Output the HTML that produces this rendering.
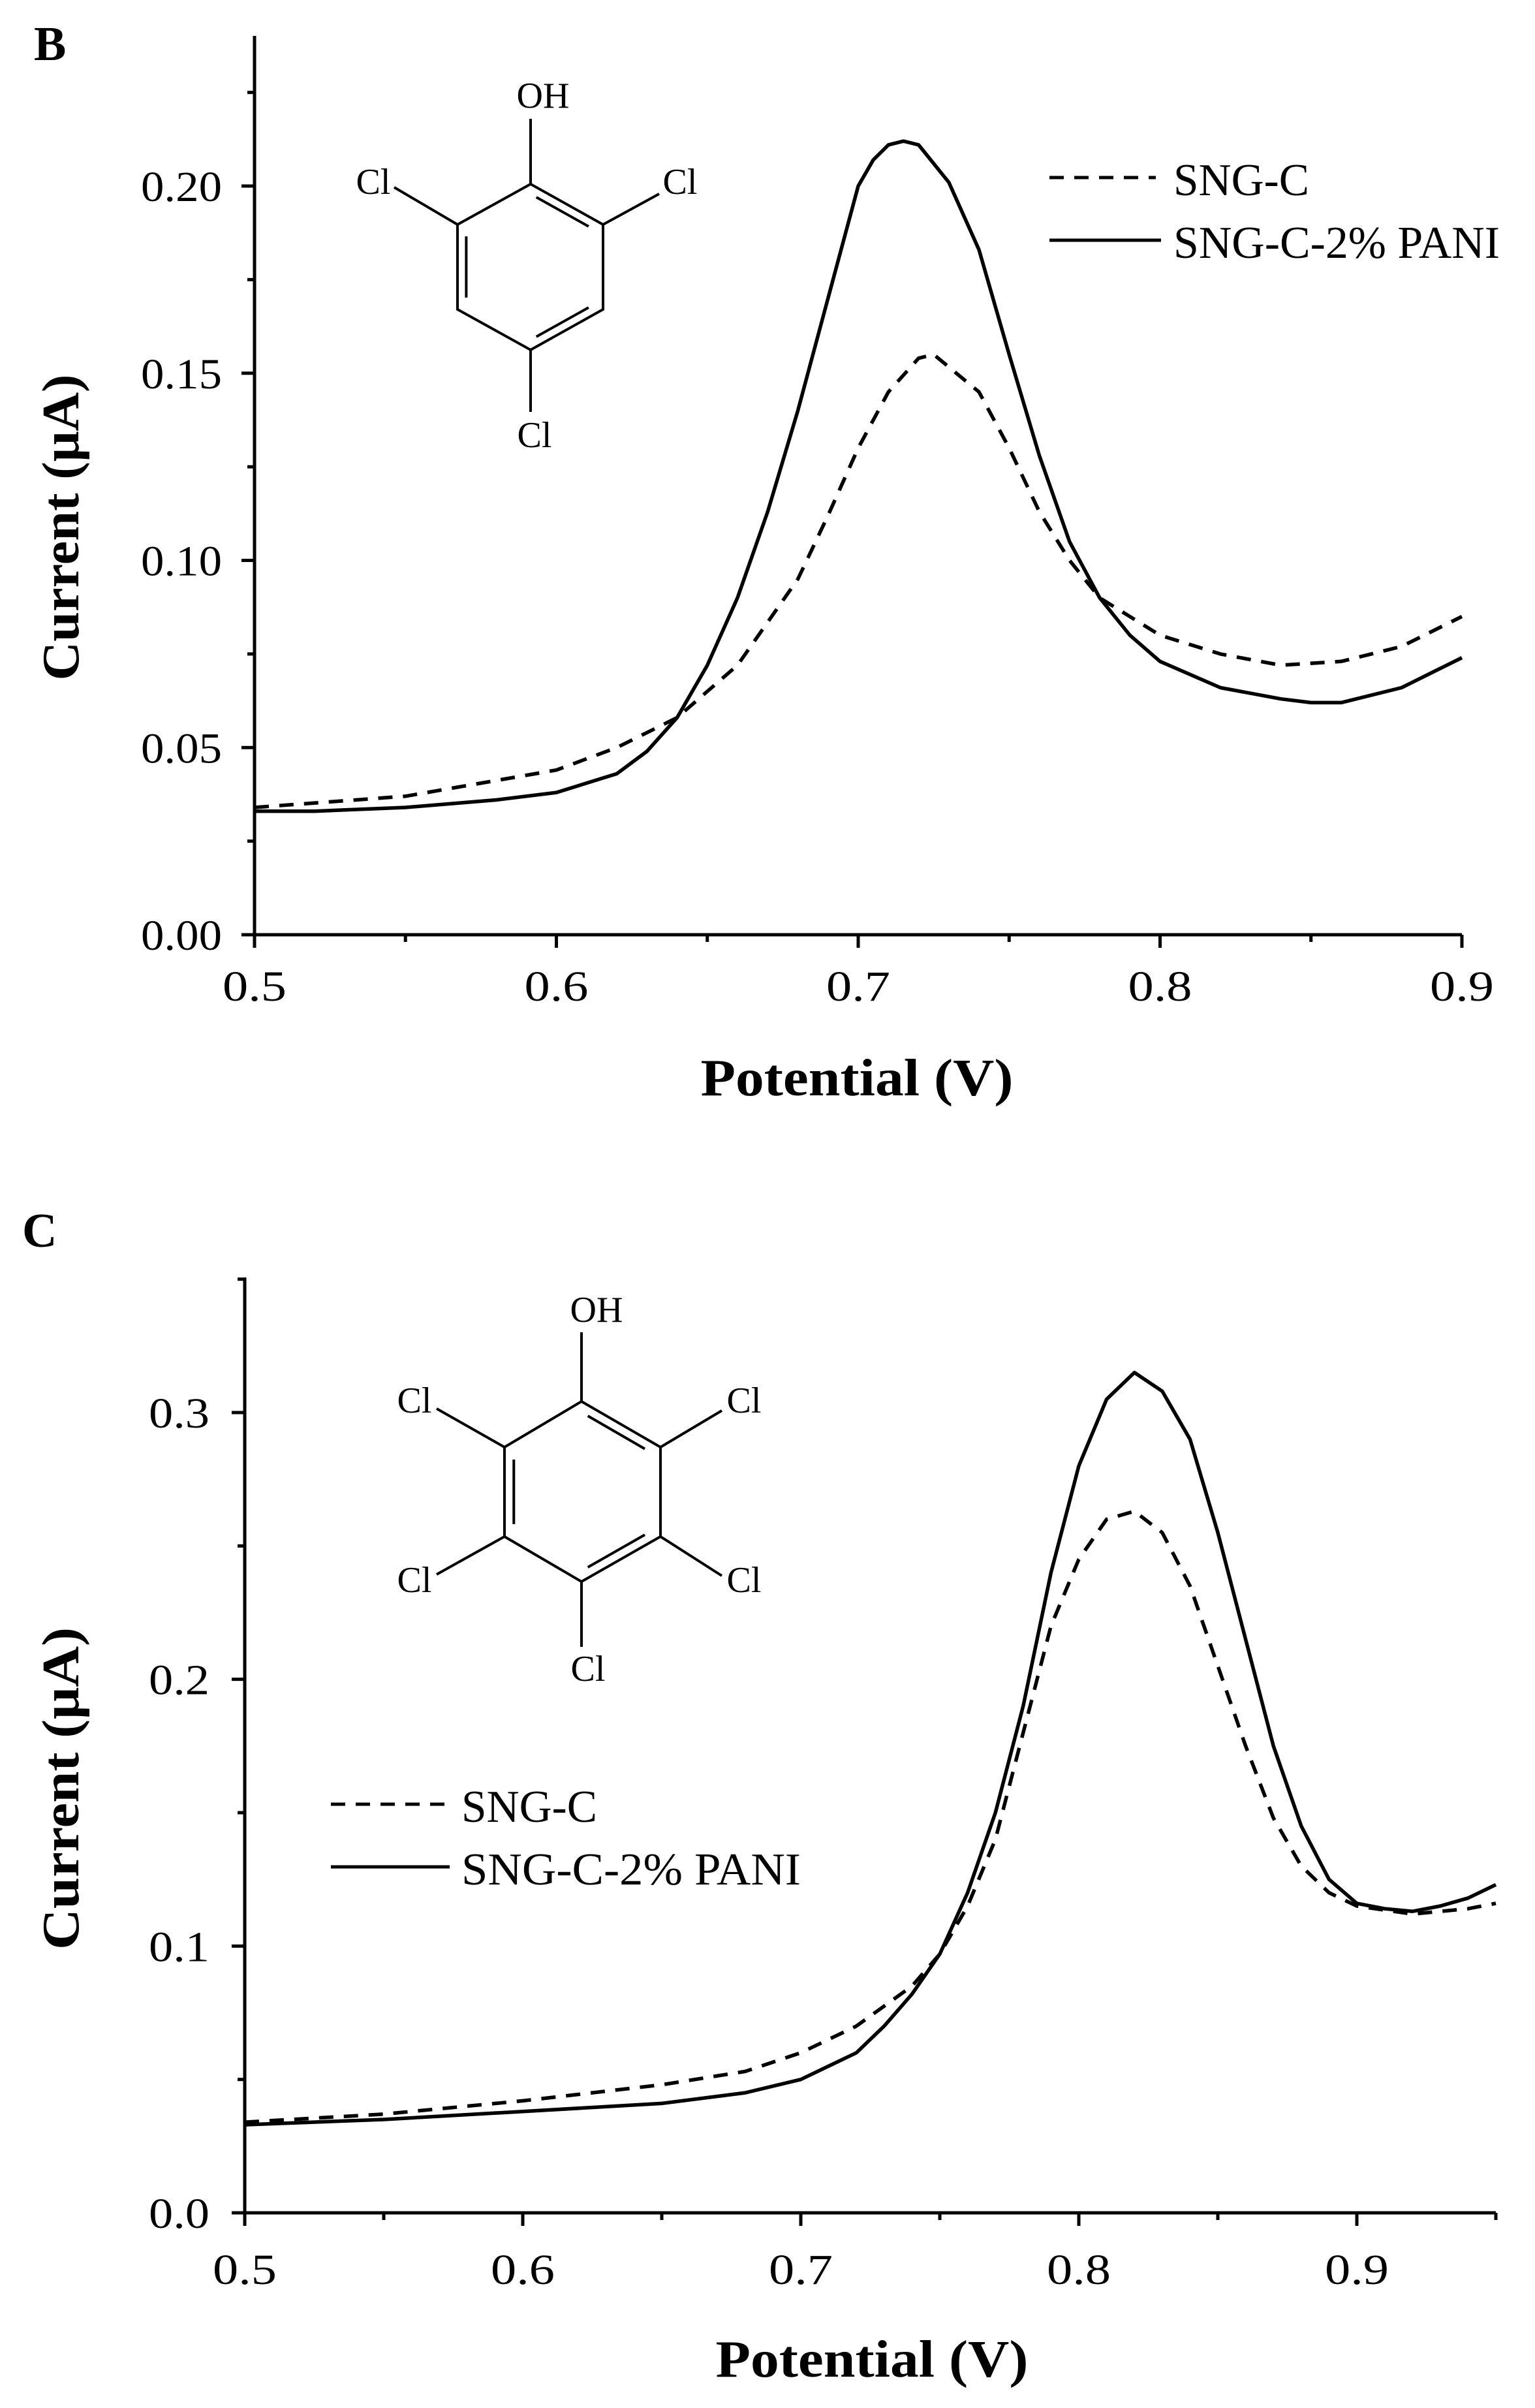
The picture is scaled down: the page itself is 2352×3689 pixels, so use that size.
<!DOCTYPE html>
<html><head><meta charset="utf-8"><style>
html,body{margin:0;padding:0;background:#fff}
svg{display:block}
text{fill:#000}
</style></head><body>
<svg id="fig" width="2352" height="3689" viewBox="0 0 2352 3689" xmlns="http://www.w3.org/2000/svg">
<rect width="2352" height="3689" fill="#fff"/>
<g id="panelB"></g>
<g id="panelC"></g>
</svg>
<script>
// Panel B data
const bX_dash = [0.5,0.55,0.6,0.62,0.64,0.66,0.68,0.69,0.70,0.71,0.72,0.725,0.74,0.75,0.76,0.77,0.78,0.80,0.82,0.84,0.86,0.88,0.90];
const bY_dash = [0.034,0.037,0.044,0.050,0.058,0.072,0.095,0.112,0.130,0.145,0.154,0.155,0.145,0.130,0.113,0.100,0.090,0.080,0.075,0.072,0.073,0.077,0.085];
const bX_solid = [0.5,0.52,0.55,0.58,0.60,0.62,0.63,0.64,0.65,0.66,0.67,0.68,0.69,0.70,0.705,0.71,0.715,0.72,0.73,0.74,0.75,0.76,0.77,0.78,0.79,0.80,0.82,0.84,0.85,0.86,0.88,0.89,0.90];
const bY_solid = [0.033,0.033,0.034,0.036,0.038,0.043,0.049,0.058,0.072,0.090,0.113,0.140,0.170,0.200,0.207,0.211,0.212,0.211,0.201,0.183,0.155,0.128,0.105,0.090,0.080,0.073,0.066,0.063,0.062,0.062,0.066,0.070,0.074];
const bXTicks = ["0.5","0.6","0.7","0.8","0.9"];
const bYTicks = ["0.00","0.05","0.10","0.15","0.20"];
// Panel C data
const cX_dash = [0.5,0.55,0.6,0.65,0.68,0.70,0.72,0.74,0.75,0.76,0.77,0.78,0.79,0.80,0.81,0.82,0.83,0.84,0.85,0.86,0.87,0.88,0.89,0.90,0.92,0.94,0.95];
const cY_dash = [0.034,0.037,0.042,0.048,0.053,0.060,0.070,0.085,0.097,0.115,0.140,0.180,0.220,0.245,0.260,0.263,0.255,0.235,0.205,0.175,0.148,0.130,0.120,0.115,0.112,0.114,0.116];
const cX_solid = [0.5,0.55,0.6,0.65,0.68,0.70,0.72,0.73,0.74,0.75,0.76,0.77,0.78,0.79,0.80,0.81,0.82,0.83,0.84,0.85,0.86,0.87,0.88,0.89,0.90,0.91,0.92,0.93,0.94,0.95];
const cY_solid = [0.033,0.035,0.038,0.041,0.045,0.050,0.060,0.070,0.082,0.097,0.120,0.150,0.190,0.240,0.280,0.305,0.315,0.308,0.290,0.255,0.215,0.175,0.145,0.125,0.116,0.114,0.113,0.115,0.118,0.123];
const cXTicks = ["0.5","0.6","0.7","0.8","0.9"];
const cYTicks = ["0.0","0.1","0.2","0.3"];

const NS="http://www.w3.org/2000/svg";
function mk(parent, tag, attrs, txt){
  const e=document.createElementNS(NS,tag);
  for(const k in attrs) e.setAttribute(k,attrs[k]);
  if(txt!==undefined) e.textContent=txt;
  parent.appendChild(e); return e;
}
const SERIF='"Liberation Serif", serif';

function drawPanel(g, cfg){
  const sx=v=>cfg.x0+(v-cfg.xmin)/(cfg.xmax-cfg.xmin)*(cfg.x1-cfg.x0);
  const sy=v=>cfg.y0-(v-cfg.ymin)/(cfg.ymax-cfg.ymin)*(cfg.y0-cfg.y1);
  const yTop=cfg.axisTop;
  const ax=mk(g,'path',{d:`M${cfg.x0},${yTop} L${cfg.x0},${cfg.y0} L${sx(cfg.xEnd)},${cfg.y0}`,fill:'none',stroke:'#000','stroke-width':5});
  
  
  for(let v=cfg.xmin; v<=cfg.xEnd+1e-9; v+=cfg.xminor){
    const major=Math.abs(Math.round(v/cfg.xmajor)*cfg.xmajor-v)<1e-6;
    const t=mk(g,'line',{x1:sx(v),x2:sx(v),y1:cfg.y0,y2:cfg.y0+(major?20:11),stroke:'#000','stroke-width':5});
    
    
  }
  cfg.xTicks.forEach(lbl=>{
    const t=mk(g,'text',{x:sx(parseFloat(lbl)),y:cfg.xLblY,'text-anchor':'middle','font-family':SERIF,'font-size':66,textLength:98,lengthAdjust:'spacingAndGlyphs'},lbl);
    
    
  });
  for(let v=cfg.ymin; v<=cfg.ymaxAxis+1e-9; v+=cfg.yminor){
    const major=Math.abs(Math.round(v/cfg.ymajor)*cfg.ymajor-v)<1e-6;
    const t=mk(g,'line',{x1:cfg.x0-(major?20:11),x2:cfg.x0,y1:sy(v),y2:sy(v),stroke:'#000','stroke-width':5});
    
    
  }
  cfg.yTicks.forEach(lbl=>{
    const t=mk(g,'text',{x:cfg.yLblX,y:sy(parseFloat(lbl))+23,'text-anchor':'end','font-family':SERIF,'font-size':66,textLength:lbl.length*31,lengthAdjust:'spacingAndGlyphs'},lbl);
    
    
  });
  const yt=mk(g,'text',{x:0,y:0,transform:`translate(${cfg.yTitleX},${cfg.yTitleY}) rotate(-90)`,'text-anchor':'middle','font-family':SERIF,'font-weight':'bold','font-size':80,textLength:cfg.yTitleLen,lengthAdjust:'spacingAndGlyphs'},'Current (μA)');
  
  
  const xt=mk(g,'text',{x:cfg.xTitleX,y:cfg.xTitleY,'text-anchor':'middle','font-family':SERIF,'font-weight':'bold','font-size':80,textLength:479,lengthAdjust:'spacingAndGlyphs'},'Potential (V)');
  
  
  const pl=mk(g,'text',{x:cfg.letterX,y:cfg.letterY,'font-family':SERIF,'font-weight':'bold','font-size':74},cfg.letter);
  
  
  function series(xs,ys,dash,name){
    const d=xs.map((x,i)=>(i?'L':'M')+sx(x).toFixed(1)+','+sy(ys[i]).toFixed(1)).join(' ');
    const p=mk(g,'path',{d:d,fill:'none',stroke:'#000','stroke-width':5.5,'stroke-linejoin':'round','stroke-dasharray':dash?'22,16':'none'});
    
    
  }
  series(cfg.dx,cfg.dy,true,'series-sng-c');
  series(cfg.solx,cfg.soly,false,'series-sng-c-2pct-pani');
  const L=cfg.legend;
  const l1=mk(g,'line',{x1:L.x,x2:L.x+L.len,y1:L.y1,y2:L.y1,stroke:'#000','stroke-width':5,'stroke-dasharray':'22,16'});
  
  
  const t1=mk(g,'text',{x:L.tx,y:L.y1+27,'font-family':SERIF,'font-size':70,textLength:208,lengthAdjust:'spacingAndGlyphs'},'SNG-C');
  
  
  const l2=mk(g,'line',{x1:L.x,x2:L.x+L.len+8,y1:L.y2,y2:L.y2,stroke:'#000','stroke-width':5});
  
  
  const t2=mk(g,'text',{x:L.tx,y:L.y2+27,'font-family':SERIF,'font-size':70,textLength:L.tlen,lengthAdjust:'spacingAndGlyphs'},'SNG-C-2% PANI');
  
  
}

function ring(g,V,dbl,subs){
  const cx=V.reduce((a,p)=>a+p[0],0)/6, cy=V.reduce((a,p)=>a+p[1],0)/6;
  const m=mk(g,'g',{});
  
  
  for(let i=0;i<6;i++){
    const a=V[i],b=V[(i+1)%6];
    mk(m,'line',{x1:a[0],y1:a[1],x2:b[0],y2:b[1],stroke:'#000','stroke-width':4,'stroke-linecap':'round'});
  }
  dbl.forEach(i=>{
    const a=V[i],b=V[(i+1)%6];
    const f=0.82, s=0.12;
    const ia=[a[0]+(cx-a[0])*s,a[1]+(cy-a[1])*s], ib=[b[0]+(cx-b[0])*s,b[1]+(cy-b[1])*s];
    const mx=(ia[0]+ib[0])/2,my=(ia[1]+ib[1])/2;
    mk(m,'line',{x1:mx+(ia[0]-mx)*f,y1:my+(ia[1]-my)*f,x2:mx+(ib[0]-mx)*f,y2:my+(ib[1]-my)*f,stroke:'#000','stroke-width':4});
  });
  subs.forEach(s=>{
    mk(m,'line',{x1:s.from[0],y1:s.from[1],x2:s.to[0],y2:s.to[1],stroke:'#000','stroke-width':4});
    mk(m,'text',{x:s.t[0],y:s.t[1]+17,'text-anchor':'middle','font-family':SERIF,'font-size':56},s.label);
  });
}

drawPanel(document.getElementById('panelB'),{
  x0:390,x1:2240,xmin:0.5,xmax:0.9,xEnd:0.9,y0:1432,y1:285,ymin:0,ymax:0.2,ymaxAxis:0.225,axisTop:55,
  xminor:0.05,xmajor:0.1,yminor:0.025,ymajor:0.05,xTicks:bXTicks,yTicks:bYTicks,xLblY:1533,yLblX:340,
  yTitleX:120,yTitleY:808,yTitleLen:469,xTitleX:1313,xTitleY:1678,letter:'B',letterX:52,letterY:92,
  dx:bX_dash,dy:bY_dash,solx:bX_solid,soly:bY_solid,
  legend:{x:1608,len:163,tx:1798,y1:272,y2:368,tlen:500}
});
drawPanel(document.getElementById('panelC'),{
  x0:375,x1:2079,xmin:0.5,xmax:0.9,xEnd:0.95,y0:3390,y1:2164,ymin:0,ymax:0.3,ymaxAxis:0.35,axisTop:1957,
  xminor:0.05,xmajor:0.1,yminor:0.05,ymajor:0.1,xTicks:cXTicks,yTicks:cYTicks,xLblY:3499,yLblX:321,
  yTitleX:120,yTitleY:2740,yTitleLen:494,xTitleX:1336,xTitleY:3641,letter:'C',letterX:34,letterY:1910,
  dx:cX_dash,dy:cY_dash,solx:cX_solid,soly:cY_solid,
  legend:{x:507,len:174,tx:707,y1:2764,y2:2860,tlen:520}
});
ring(document.getElementById('panelB'),
  [[813,282],[924,344],[924,474],[813,536],[701,474],[701,344]],[0,2,4],
  [{from:[813,282],to:[813,182],t:[832,148],label:'OH'},
   {from:[701,344],to:[604,287],t:[572,280],label:'Cl'},
   {from:[924,344],to:[1010,297],t:[1042,280],label:'Cl'},
   {from:[813,536],to:[813,631],t:[819,668],label:'Cl'}]);
ring(document.getElementById('panelC'),
  [[891,2147],[1012,2217],[1012,2354],[891,2423],[773,2354],[773,2217]],[0,2,4],
  [{from:[891,2147],to:[891,2041],t:[914,2008],label:'OH'},
   {from:[773,2217],to:[669,2158],t:[635,2147],label:'Cl'},
   {from:[1012,2217],to:[1106,2161],t:[1140,2147],label:'Cl'},
   {from:[773,2354],to:[669,2412],t:[635,2422],label:'Cl'},
   {from:[1012,2354],to:[1106,2414],t:[1140,2422],label:'Cl'},
   {from:[891,2423],to:[891,2523],t:[901,2558],label:'Cl'}]);
</script>
</body></html>
